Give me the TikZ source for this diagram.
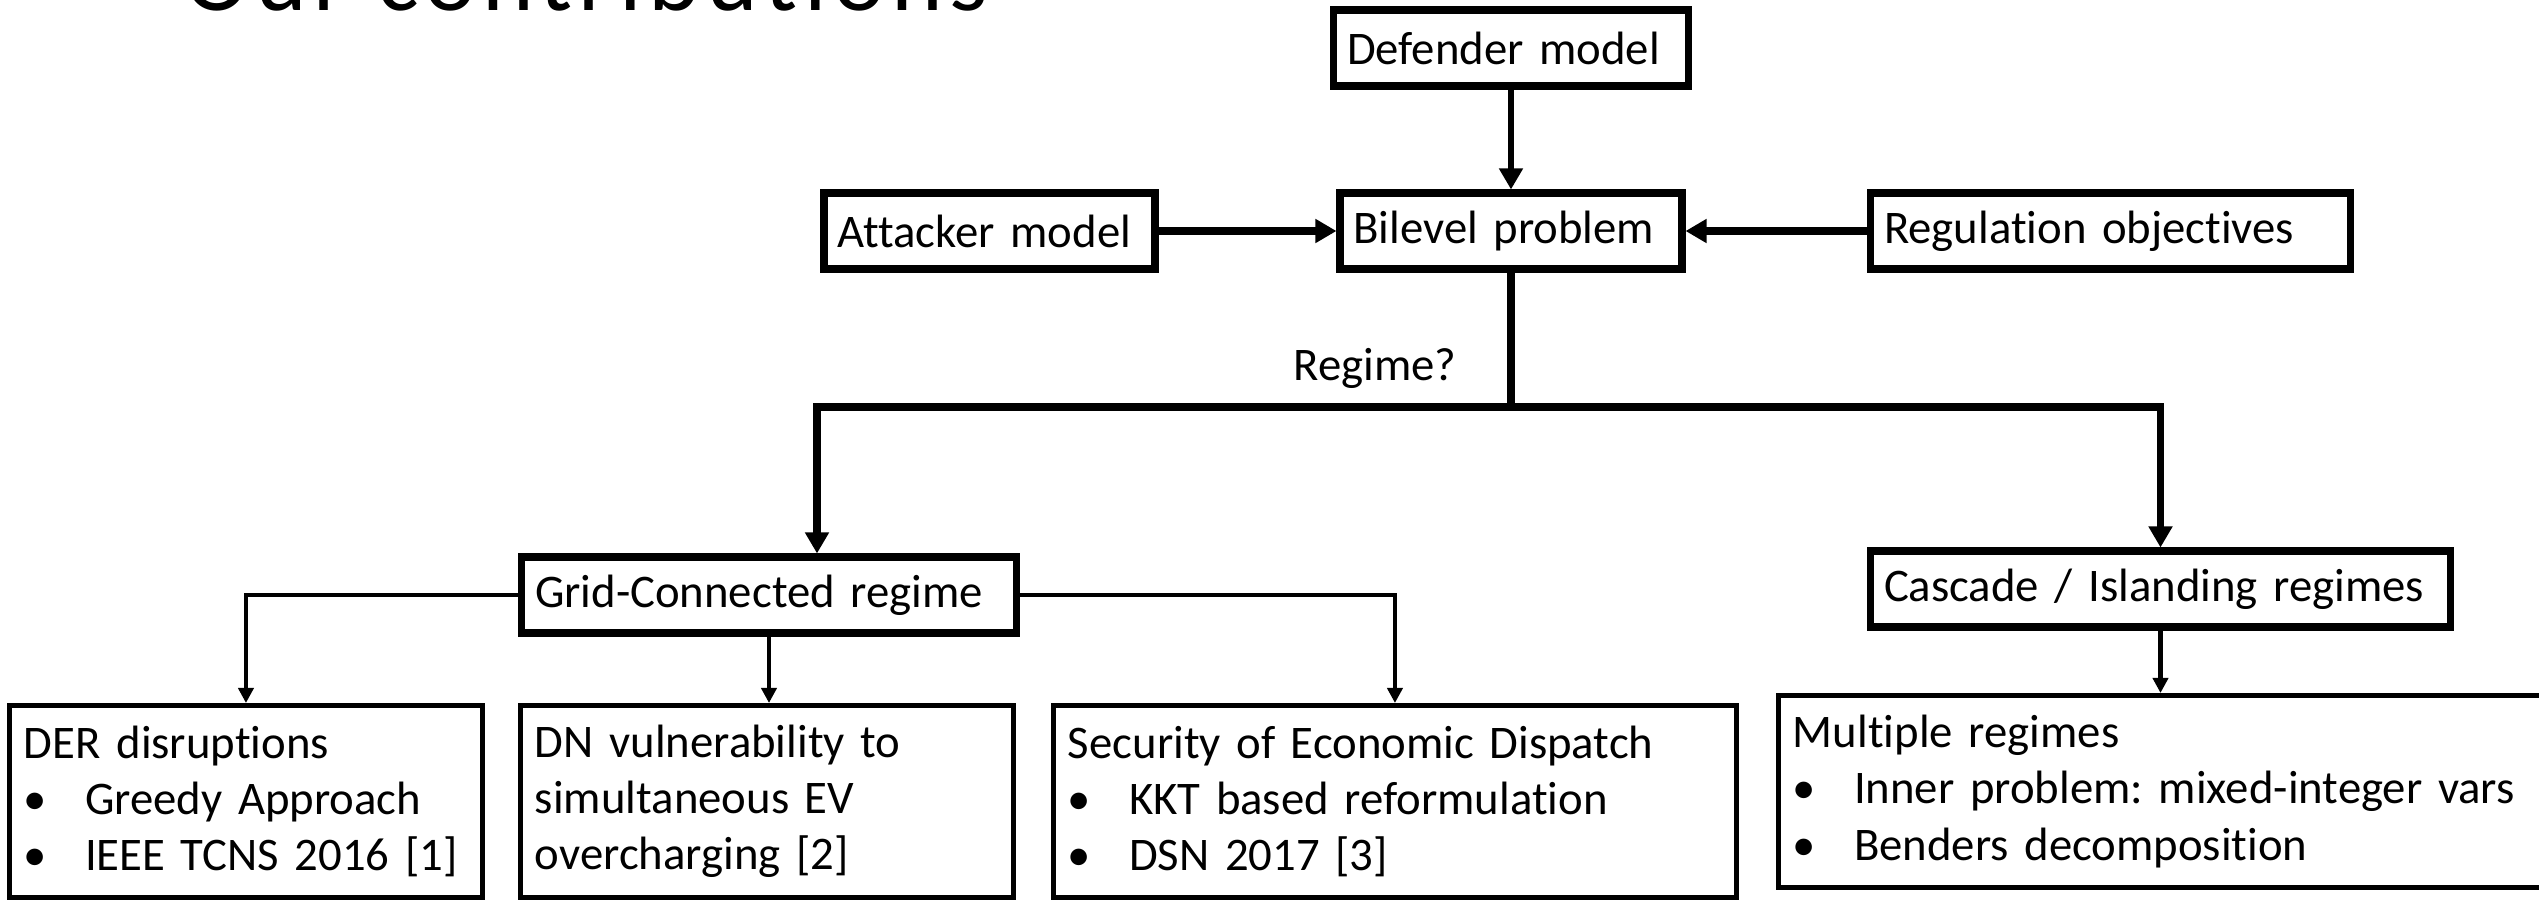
\documentclass[tikz,border=0pt]{standalone}
\usepackage{fontspec}
\setmainfont{Carlito}[Ligatures=NoCommon]
\usetikzlibrary{arrows.meta}
\frenchspacing

\newcommand{\bul}[1]{\makebox[17.4pt][l]{\textbullet}#1}

\begin{document}
\begin{tikzpicture}[>={Triangle[width=6.5pt,length=6pt]},
    box/.style={draw,line width=2pt,inner xsep=0.135cm,inner ysep=0pt,minimum height=0.76cm,align=left,font=\fontsize{13.3}{16}\selectfont},
    listbox/.style={draw,line width=1.4pt,inner xsep=0.145cm,minimum height=1.92cm,align=left,anchor=north west,font=\fontsize{13.3}{16}\selectfont},
    branch/.style={line width=1.4pt,-{Triangle[width=4.3pt,length=4.3pt]}}]
    \useasboundingbox (0,0) rectangle (25.39,-9);
    \clip (0,0) rectangle (25.39,-9);

    \node[anchor=base west,font=\fontsize{28}{30}\selectfont\addfontfeature{LetterSpace=6.5}] (ttl) at (1.72,-0.10) {Our contributions};

    % top level
    \node[box,text width=3.28cm] (def) at (15.11,-0.48) {Defender model};
    \node[box,text width=3.15cm] (bil) at (15.11,-2.31) {Bilevel problem};
    \node[box,text width=3.04cm] (att) at (9.895,-2.31) {Attacker model};
    \node[box,text width=4.53cm] (reg) at (21.105,-2.31) {Regulation objectives};
    \node[anchor=base,font=\fontsize{13.3}{16}\selectfont] (rq) at (13.75,-3.80) {Regime?};

    \draw[->,line width=1.7pt] (def.south) -- (bil.north);
    \draw[->,line width=2.2pt] (att) -- (bil);
    \draw[->,line width=2.2pt] (reg) -- (bil);

    % regimes
    \node[box,text width=4.68cm] (grid) at (7.69,-5.95) {Grid-Connected regime};
    \node[box,text width=5.53cm] (cas) at (21.605,-5.89) {Cascade / Islanding regimes};

    \coordinate (fork) at (15.11,-4.07);
    \coordinate (lft) at (8.17,-4.07);
    \draw[line width=2pt] (bil.south) -- (fork);
    \draw[->,line width=2pt] (fork) -- (lft) -- (lft |- grid.north);
    \draw[->,line width=2pt] (fork) -| (cas.north);

    % results
    \node[listbox,text width=4.44cm] (der) at (0.07,-7.03) {DER disruptions\\\bul{Greedy Approach}\\\bul{IEEE TCNS 2016 [1]}};
    \node[listbox,text width=4.64cm] (dn) at (5.18,-7.03) {DN vulnerability to\\simultaneous EV\\overcharging [2]};
    \node[listbox,text width=6.54cm] (sec) at (10.51,-7.03) {Security of Economic Dispatch\\\bul{KKT based reformulation}\\\bul{DSN 2017 [3]}};
    \node[listbox,text width=7.90cm] (mul) at (17.76,-6.93) {Multiple regimes\\\bul{Inner problem: mixed-integer vars}\\\bul{Benders decomposition}};

    \draw[branch] (grid.west) -| (der.north);
    \draw[branch] (grid.south) -- (grid.south |- dn.north);
    \draw[branch] (grid.east) -| (sec.north);
    \draw[branch] (cas.south) -- (cas.south |- mul.north);
\end{tikzpicture}
\end{document}
